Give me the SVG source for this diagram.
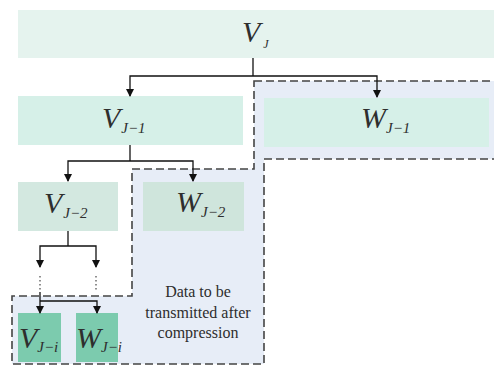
<svg xmlns="http://www.w3.org/2000/svg" width="494" height="367" viewBox="0 0 494 367">
<style>
text{font-family:"Times New Roman",Times,"Liberation Serif","DejaVu Serif",serif}
.lbl{font-style:italic;fill:#2e2e2e}
.big{font-size:30px}
.sub{font-size:15px}
.note{font-size:16px;fill:#2e2e2e;text-anchor:middle}
.conn{fill:none;stroke:#111;stroke-width:1.3}
.dash{fill:#e7edf7;stroke:#444;stroke-width:1.6;stroke-dasharray:8 4}
.dots{fill:none;stroke:#555;stroke-width:1.3;stroke-dasharray:1.5 2.5}
</style>
<defs>
<marker id="arr" markerWidth="8" markerHeight="8" refX="7" refY="4" orient="auto" markerUnits="userSpaceOnUse">
<path d="M0,0 L8,4 L0,8 z" fill="#111"/>
</marker>
</defs>
<g id="region">
<path class="dash" d="M254,81 H500 V159 H264 V364 H12 V296 H132 V169 H254 Z"/>
</g>
<g id="VJ">
<rect x="18" y="10" width="480" height="48" fill="#e5f3ee"/>
<text class="lbl" x="242" y="42"><tspan class="big">V</tspan><tspan font-size="12" dx="3" dy="6">J</tspan></text>
</g>
<g id="VJ1">
<rect x="18" y="96" width="225" height="49" fill="#d6f0e8"/>
<text class="lbl" x="102" y="128"><tspan class="big">V</tspan><tspan class="sub" dx="1" dy="5">J−1</tspan></text>
</g>
<g id="WJ1">
<rect x="264" y="98" width="225" height="49" fill="#d6f0e8"/>
<text class="lbl" x="361" y="128"><tspan class="big">W</tspan><tspan class="sub" dx="0" dy="5">J−1</tspan></text>
</g>
<g id="VJ2">
<rect x="18" y="182" width="100" height="49" fill="#d3e8e0"/>
<text class="lbl" x="44" y="213"><tspan class="big">V</tspan><tspan class="sub" dx="1" dy="5">J−2</tspan></text>
</g>
<g id="WJ2">
<rect x="143" y="182" width="101" height="49" fill="#cfe5dc"/>
<text class="lbl" x="176" y="212"><tspan class="big">W</tspan><tspan class="sub" dx="0" dy="5">J−2</tspan></text>
</g>
<g id="VJi">
<rect x="18" y="313" width="43" height="49" fill="#7ccbae"/>
<text class="lbl" x="19" y="348"><tspan class="big">V</tspan><tspan class="sub" dx="0" dy="4">J−i</tspan></text>
</g>
<g id="WJi">
<rect x="76" y="313" width="42" height="49" fill="#7ccbae"/>
<text class="lbl" x="76" y="348"><tspan class="big">W</tspan><tspan class="sub" dx="0" dy="4">J−i</tspan></text>
</g>
<g id="note">
<text class="note" x="198" y="297">Data to be</text>
<text class="note" x="198" y="318">transmitted after</text>
<text class="note" x="198" y="338">compression</text>
</g>
<g id="connectors">
<path class="conn" d="M253,58 V76"/>
<path class="conn" d="M253,76 H130 V96" marker-end="url(#arr)"/>
<path class="conn" d="M253,76 H377 V97" marker-end="url(#arr)"/>
<path class="conn" d="M130,145 V161"/>
<path class="conn" d="M130,161 H68 V181" marker-end="url(#arr)"/>
<path class="conn" d="M130,161 H193 V181" marker-end="url(#arr)"/>
<path class="conn" d="M68,231 V246"/>
<path class="conn" d="M68,246 H40 V267" marker-end="url(#arr)"/>
<path class="conn" d="M68,246 H96 V267" marker-end="url(#arr)"/>
<path class="dots" d="M40,276 V292 M96,276 V292"/>
<path class="conn" d="M40,292 V313" marker-end="url(#arr)"/>
<path class="conn" d="M40,301 H97 V313" marker-end="url(#arr)"/>
</g>
</svg>
